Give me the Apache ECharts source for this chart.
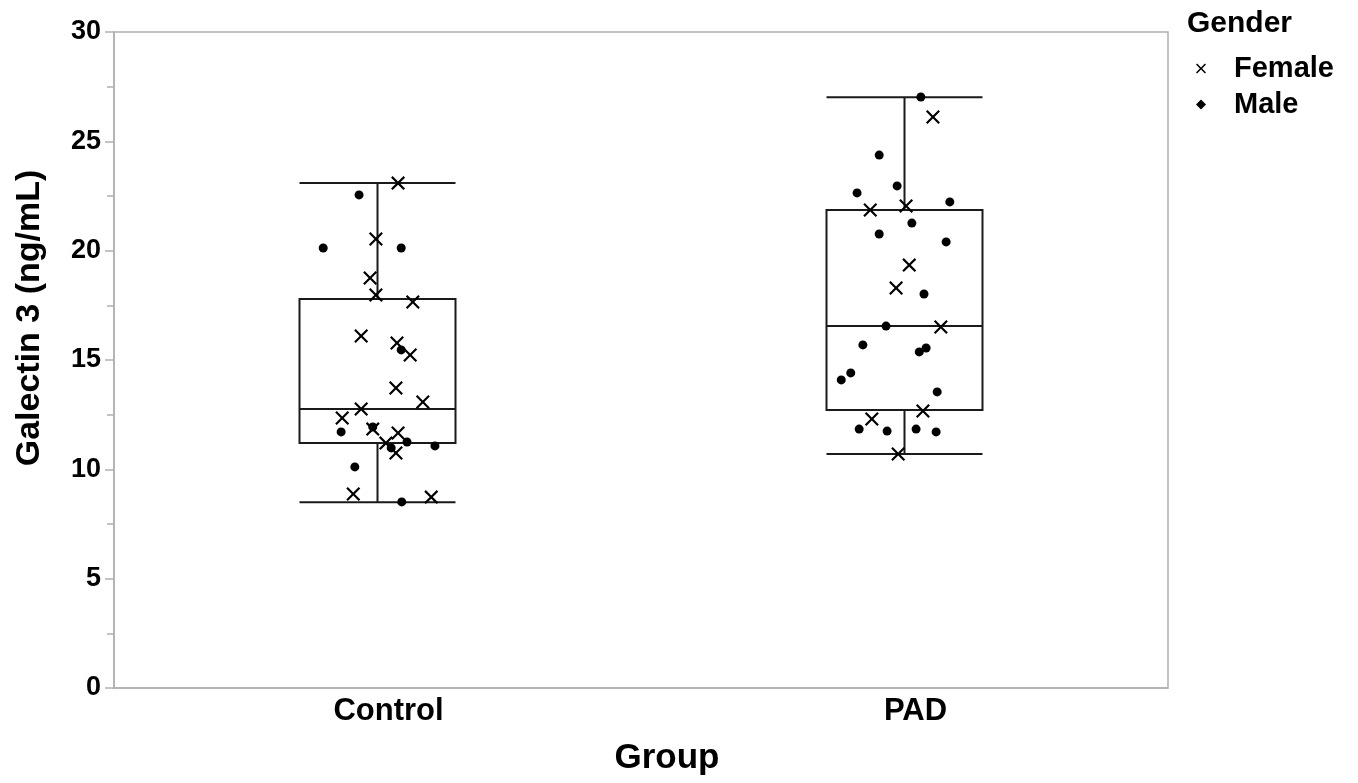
<!DOCTYPE html>
<html>
<head>
<meta charset="utf-8">
<script src="https://cdn.jsdelivr.net/npm/echarts@6/dist/echarts.min.js"></script>
<style>html,body{margin:0;padding:0;background:#fff;}#main{width:1358px;height:783px;}</style>
</head>
<body>
<div id="main"></div>
<script>
// ---- data ----
var categories = ['Control', 'PAD'];
// boxplot stats: [min, Q1, median, Q3, max]
var boxControl = [8.5, 11.2, 12.76, 17.79, 23.09];
var boxPAD = [10.7, 12.71, 16.55, 21.86, 27.02];
// points: [x position on a 0..2 group scale (jittered), value]
var femalePoints = [
  [0.539, 23.09], [0.497, 20.53], [0.486, 18.75], [0.497, 17.97], [0.567, 17.65],
  [0.469, 16.10], [0.537, 15.78], [0.562, 15.23], [0.535, 13.72], [0.586, 13.08],
  [0.469, 12.76], [0.433, 12.35], [0.491, 11.84], [0.539, 11.66], [0.516, 11.20],
  [0.535, 10.75], [0.454, 8.87], [0.602, 8.73],
  [1.554, 26.11], [1.435, 21.86], [1.503, 22.04], [1.509, 19.34], [1.484, 18.29],
  [1.569, 16.51], [1.535, 12.67], [1.438, 12.30], [1.488, 10.70]
];
var malePoints = [
  [0.465, 22.55], [0.397, 20.12], [0.545, 20.12], [0.545, 15.46], [0.431, 11.71],
  [0.491, 11.94], [0.556, 11.25], [0.609, 11.07], [0.526, 10.98], [0.457, 10.11],
  [0.546, 8.51],
  [1.531, 27.03], [1.452, 24.37], [1.410, 22.64], [1.486, 22.96], [1.586, 22.23],
  [1.514, 21.26], [1.452, 20.76], [1.579, 20.40], [1.537, 18.02], [1.465, 16.55],
  [1.421, 15.69], [1.541, 15.55], [1.528, 15.37], [1.398, 14.41], [1.380, 14.09],
  [1.562, 13.54], [1.414, 11.84], [1.467, 11.75], [1.522, 11.84], [1.560, 11.71]
];
var yTicks = {min: 0, max: 30, interval: 5};

var crossPath = 'path://M0,1.1L1.1,0L5,3.9L8.9,0L10,1.1L6.1,5L10,8.9L8.9,10L5,6.1L1.1,10L0,8.9L3.9,5Z';
var FONT = '"Liberation Sans", Arial, sans-serif';

var chart = echarts.init(document.getElementById('main'), null, {renderer: 'canvas'});
chart.setOption({
  backgroundColor: '#fff',
  animation: false,
  title: {
    text: 'Gender', left: 1182, top: 4,
    textStyle: {fontFamily: FONT, fontWeight: 'bold', fontSize: 30, color: '#000'}
  },
  legend: {
    orient: 'vertical', left: 1191, top: 49, itemGap: 7,
    itemWidth: 10, itemHeight: 10,
    data: [{name: 'Female', icon: crossPath}, {name: 'Male', icon: 'diamond'}],
    textStyle: {fontFamily: FONT, fontWeight: 'bold', fontSize: 29, color: '#000', padding: [0, 0, 0, 23]}
  },
  grid: {
    left: 114, top: 32, right: 190, bottom: 95,
    show: true, borderColor: '#b0b0b0', borderWidth: 1.5, backgroundColor: 'transparent'
  },
  xAxis: [{
    type: 'category', data: categories, boundaryGap: true,
    axisLine: {show: true, lineStyle: {color: '#b0b0b0', width: 1.5}},
    axisTick: {show: false},
    axisLabel: {fontFamily: FONT, fontWeight: 'bold', fontSize: 31, color: '#000', margin: 8, padding: [0, 0, 0, 22]},
    splitLine: {show: false}
  }, {
    type: 'value', min: 0, max: 2, show: false, position: 'bottom'
  }],
  yAxis: {
    type: 'value', min: yTicks.min, max: yTicks.max, interval: yTicks.interval,
    axisLine: {show: true, lineStyle: {color: '#b0b0b0', width: 1.5}},
    axisTick: {show: true, length: 9, lineStyle: {color: '#b0b0b0', width: 1.5}},
    minorTick: {show: true, splitNumber: 2, length: 7, lineStyle: {color: '#b0b0b0', width: 1.5}},
    axisLabel: {fontFamily: FONT, fontWeight: 'bold', fontSize: 27, color: '#000', margin: 13},
    splitLine: {show: false}
  },
  graphic: [{
    type: 'text', x: 30, y: 318, rotation: Math.PI / 2,
    style: {text: 'Galectin 3 (ng/mL)', font: 'bold 34px ' + FONT, fill: '#000',
            textAlign: 'center', textVerticalAlign: 'middle'}
  }, {
    type: 'text', x: 667, y: 758,
    style: {text: 'Group', font: 'bold 35px ' + FONT, fill: '#000',
            textAlign: 'center', textVerticalAlign: 'middle'}
  }],
  series: [{
    type: 'boxplot', xAxisIndex: 0,
    data: [boxControl, boxPAD],
    boxWidth: [156, 156],
    itemStyle: {color: 'transparent', borderColor: '#1a1a1a', borderWidth: 2},
    emphasis: {disabled: true},
    z: 2
  }, {
    name: 'Female', type: 'scatter', xAxisIndex: 1,
    data: femalePoints, symbol: crossPath, symbolSize: 14,
    itemStyle: {color: '#000', opacity: 1}, z: 3
  }, {
    name: 'Male', type: 'scatter', xAxisIndex: 1,
    data: malePoints, symbol: 'circle', symbolSize: 9,
    itemStyle: {color: '#000', opacity: 1}, z: 3
  }]
});
</script>
</body>
</html>
